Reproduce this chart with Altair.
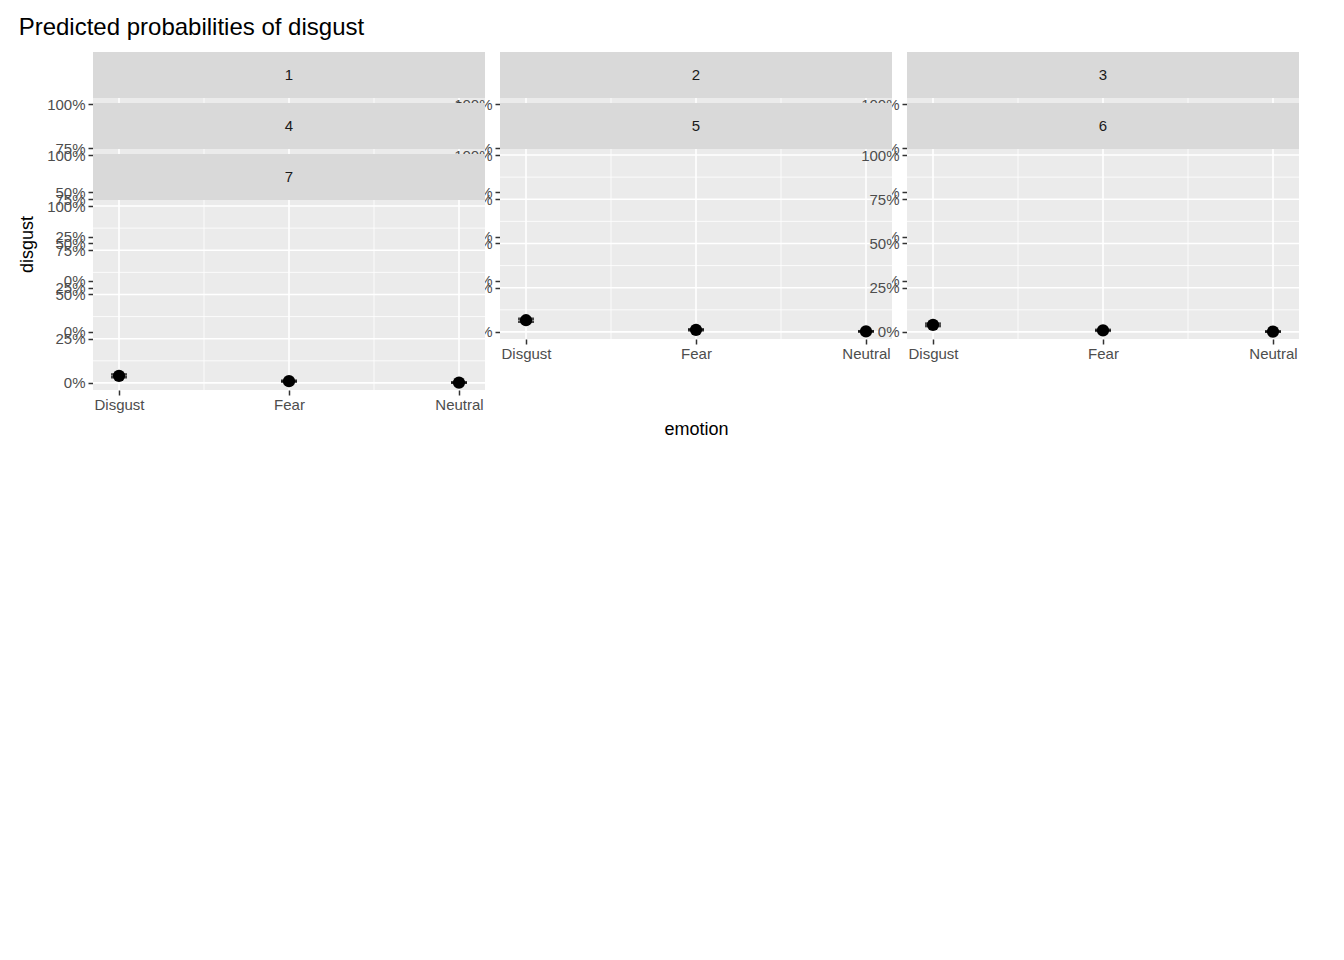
import altair as alt
import pandas as pd

emotions = ["Disgust", "Fear", "Neutral"]
panels = [1, 2, 3, 4, 5, 6, 7]
est = [[38.2, 82.6, 97.7], [21.8, 10.0, 2.3], [17.8, 5.0, 1.0], [11.0, 2.4, 0.5],
       [6.6, 1.2, 0.3], [4.0, 0.9, 0.2], [4.0, 1.0, 0.2]]
lo = [[31.0, 77.4, 96.8], [20.3, 8.2, 1.8], [16.5, 4.2, 0.7], [9.8, 1.9, 0.3],
      [5.7, 0.9, 0.2], [3.3, 0.6, 0.1], [3.2, 0.7, 0.1]]
hi = [[44.0, 88.0, 98.5], [23.3, 11.8, 2.8], [19.1, 5.8, 1.3], [12.2, 2.9, 0.7],
      [7.5, 1.5, 0.4], [4.7, 1.2, 0.3], [4.8, 1.3, 0.3]]

YMIN, YTOP, YMAX = -4.0, 103.4, 129.4
XMIN, XMAX = -0.153, 2.153
FONT = "Liberation Sans"

ymaj = pd.DataFrame({"y": [0, 25, 50, 75, 100]})
ymin_ = pd.DataFrame({"y": [12.5, 37.5, 62.5, 87.5]})
xmaj = pd.DataFrame({"x": [0, 1, 2]})
xmin_ = pd.DataFrame({"x": [0.5, 1.5]})

xs = alt.Scale(domain=[XMIN, XMAX], nice=False, zero=False)
ys = alt.Scale(domain=[YMIN, YMAX], nice=False, zero=False)


def panel(i, ytitle=None, xtitle=None):
    df = pd.DataFrame({"x": [0, 1, 2], "emotion": emotions,
                       "est": est[i], "lo": lo[i], "hi": hi[i]})
    xkw = dict(values=[0, 1, 2], labelExpr="['Disgust','Fear','Neutral'][datum.value]",
               grid=False, domain=False, tickColor="#333333", tickSize=5, tickWidth=1.5,
               labelFontSize=15, labelColor="#4d4d4d", labelFont=FONT, labelPadding=2,
               title=xtitle)
    if xtitle:
        xkw.update(titleFontSize=18, titleFont=FONT, titleFontWeight="normal",
                   titleColor="black", titleX=603, titleAlign="center", titlePadding=8)
    ykw = dict(values=[0, 25, 50, 75, 100], labelExpr="datum.value + '%'",
               grid=False, domain=False, tickColor="#333333", tickSize=5, tickWidth=1.5,
               labelFontSize=15, labelColor="#4d4d4d", labelFont=FONT, labelPadding=3,
               title=ytitle)
    if ytitle:
        ykw.update(titleFontSize=18, titleFont=FONT, titleFontWeight="normal",
                   titleColor="black", titleY=141, titlePadding=10)
    bg = alt.Chart(pd.DataFrame({"a": [0]})).mark_rect(color="#ebebeb").encode(
        x=alt.X(datum=XMIN, scale=xs, axis=alt.Axis(**xkw)), x2=alt.datum(XMAX),
        y=alt.Y(datum=YMIN, scale=ys, axis=alt.Axis(**ykw)), y2=alt.datum(YTOP))
    g1 = alt.Chart(ymaj).mark_rule(color="white", strokeWidth=1.6).encode(
        y="y:Q", x=alt.datum(XMIN), x2=alt.datum(XMAX))
    g2 = alt.Chart(ymin_).mark_rule(color="white", strokeWidth=0.8).encode(
        y="y:Q", x=alt.datum(XMIN), x2=alt.datum(XMAX))
    g3 = alt.Chart(xmaj).mark_rule(color="white", strokeWidth=1.6).encode(
        x="x:Q", y=alt.datum(YMIN), y2=alt.datum(YTOP))
    g4 = alt.Chart(xmin_).mark_rule(color="white", strokeWidth=0.8).encode(
        x="x:Q", y=alt.datum(YMIN), y2=alt.datum(YTOP))
    strip = alt.Chart(pd.DataFrame({"a": [0]})).mark_rect(color="#d9d9d9").encode(
        x=alt.datum(XMIN), x2=alt.datum(XMAX), y=alt.datum(YTOP), y2=alt.datum(YMAX))
    stxt = alt.Chart(pd.DataFrame({"t": [str(panels[i])]})).mark_text(
        fontSize=15, font=FONT, color="#1a1a1a").encode(
        x=alt.datum(1.0), y=alt.datum((YTOP + YMAX) / 2), text="t:N")
    base = alt.Chart(df)
    bar = base.mark_rule(color="black", strokeWidth=2).encode(x="x:Q", y="lo:Q", y2="hi:Q")
    caps_lo = base.mark_tick(color="black", orient="horizontal", size=16, thickness=2.5).encode(x="x:Q", y="lo:Q")
    caps_hi = base.mark_tick(color="black", orient="horizontal", size=16, thickness=2.5).encode(x="x:Q", y="hi:Q")
    pts = base.mark_point(filled=True, color="black", opacity=1, size=150).encode(x="x:Q", y="est:Q")
    return alt.layer(bg, g2, g1, g4, g3, strip, stxt, bar, caps_lo, caps_hi, pts).properties(
        width=392, height=236)


row1 = alt.hconcat(panel(0), panel(1), panel(2), spacing=15, bounds="flush")
row2 = alt.hconcat(panel(3, ytitle="disgust"), panel(4), panel(5), spacing=15, bounds="flush")
row3 = alt.hconcat(panel(6, xtitle="emotion"), spacing=15, bounds="flush")

chart = alt.vconcat(row1, row2, row3, spacing=51, bounds="flush").properties(
    title=alt.TitleParams("Predicted probabilities of disgust", anchor="start", fontSize=24,
                          font=FONT, fontWeight="normal", color="black", offset=12),
    background="white",
    padding={"left": 10, "top": 8, "right": 8, "bottom": 8},
).configure_view(stroke=None)

chart.save("out.html", embed_options={"renderer": "svg", "actions": False})
